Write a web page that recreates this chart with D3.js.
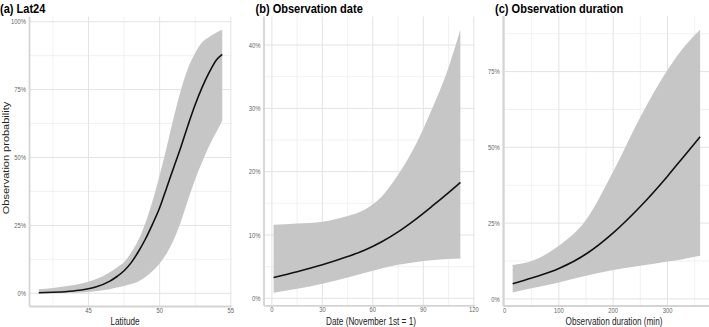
<!DOCTYPE html>
<html>
<head>
<meta charset="utf-8">
<script src="https://cdn.jsdelivr.net/npm/d3@7"></script>
<style>
  html, body { margin: 0; padding: 0; background: #fff; }
  svg { display: block; font-family: "Liberation Sans", Arial, sans-serif; }
</style>
</head>
<body>
<svg id="chart" width="709" height="327"></svg>
<script>
// (a) latitude
const latitude = [41.5, 42.5, 43.5, 44.5, 45.5, 46.5, 47, 47.5, 48, 48.5, 49, 49.5, 50, 50.5, 51, 51.5, 52, 52.5, 53, 53.5, 54, 54.4];
const latFit = [0.2, 0.4, 0.7, 1.2, 2.3, 4.5, 6.2, 8.3, 11.3, 15.3, 20, 25.5, 31.5, 39, 46.5, 54, 62, 69.5, 76, 81.5, 86, 88];
const latLow = [0, 0.05, 0.1, 0.3, 0.8, 1.5, 2.1, 2.7, 3.4, 4.4, 6, 8.2, 11, 14.8, 19.8, 26.5, 34.5, 42, 48.5, 54.5, 59.5, 63.5];
const latHigh = [1.5, 2.0, 2.7, 3.6, 5.2, 7.8, 9.5, 11.5, 15, 19.5, 26, 34, 43.5, 54, 65, 75, 83, 88.5, 92.5, 94.5, 96, 97];

// (b) observation date
const dateDay = [1, 15, 30, 45, 55, 65, 75, 85, 95, 105, 112];
const dateFit = [3.3, 4.2, 5.3, 6.6, 7.6, 8.9, 10.5, 12.4, 14.5, 16.7, 18.3];
const dateLow = [0.9, 1.5, 2.3, 3.3, 4, 4.7, 5.3, 5.7, 6, 6.2, 6.3];
const dateHigh = [11.6, 11.8, 12.1, 13, 14, 16, 19.5, 24, 29.8, 36.5, 42.4];

// (c) observation duration
const durMin = [15, 50, 100, 150, 200, 250, 300, 330, 360];
const durFit = [5, 6.9, 10, 14.8, 21.8, 30.5, 40.5, 47, 53.5];
const durLow = [2.1, 3.5, 5.4, 7.6, 9.5, 10.9, 12.3, 13.2, 14.2];
const durHigh = [11.2, 12.5, 17.5, 26, 42, 60, 75.5, 83, 88.8];

// breaks
const latTicks = [45, 50, 55], latMinor = [42.5, 47.5, 52.5];
const dateTicks = [0, 30, 60, 90, 120], dateMinor = [15, 45, 75, 105];
const durTicks = [0, 100, 200, 300], durMinor = [50, 150, 250, 350];
const probTicksA = [0, 25, 50, 75, 100], probMinorA = [12.5, 37.5, 62.5, 87.5];
const probTicksB = [0, 10, 20, 30, 40], probMinorB = [5, 15, 25, 35];
const probTicksC = [0, 25, 50, 75], probMinorC = [12.5, 37.5, 62.5, 87.5];

const panels = [
  { tag: "(a)", title: "Lat24", xs: latitude, fit: latFit, lo: latLow, hi: latHigh,
    xDomain: [40.85, 55.05], yDomain: [-4.85, 101.85], box: { l: 29.5, r: 231.5, t: 16.7, b: 306.5 },
    xTicks: latTicks, xMinor: latMinor, yTicks: probTicksA, yMinor: probMinorA,
    xTitle: "Latitude", titleX: 0, xTitleX: 125 },
  { tag: "(b)", title: "Observation date", xs: dateDay, fit: dateFit, lo: dateLow, hi: dateHigh,
    xDomain: [-4.7, 120.7], yDomain: [-1.18, 44.5], box: { l: 264, r: 475, t: 16.5, b: 305.8 },
    xTicks: dateTicks, xMinor: dateMinor, yTicks: probTicksB, yMinor: probMinorB,
    xTitle: "Date (November 1st = 1)", titleX: 255.5, xTitleX: 371 },
  { tag: "(c)", title: "Observation duration", xs: durMin, fit: durFit, lo: durLow, hi: durHigh,
    xDomain: [-2.25, 377.25], yDomain: [-2.35, 93.35], box: { l: 503.3, r: 709.5, t: 16, b: 306 },
    xTicks: durTicks, xMinor: durMinor, yTicks: probTicksC, yMinor: probMinorC,
    xTitle: "Observation duration (min)", titleX: 495, xTitleX: 614 }
];

const svg = d3.select("#chart");
const squeeze = 0.78; // the figure is slightly narrowed horizontally

panels.forEach((p) => {
  const x = d3.scaleLinear().domain(p.xDomain).range([p.box.l, p.box.r]);
  const y = d3.scaleLinear().domain(p.yDomain).range([p.box.b, p.box.t]);
  const g = svg.append("g");

  // grid
  const grid = g.append("g");
  grid.selectAll("line.vminor").data(p.xMinor).enter().append("line")
    .attr("x1", (d) => x(d)).attr("x2", (d) => x(d))
    .attr("y1", p.box.t).attr("y2", p.box.b)
    .attr("stroke", "#eeeeee").attr("stroke-width", 0.8);
  grid.selectAll("line.hminor").data(p.yMinor).enter().append("line")
    .attr("x1", p.box.l).attr("x2", p.box.r)
    .attr("y1", (d) => y(d)).attr("y2", (d) => y(d))
    .attr("stroke", "#eeeeee").attr("stroke-width", 0.8);
  grid.selectAll("line.vmajor").data(p.xTicks).enter().append("line")
    .attr("x1", (d) => x(d)).attr("x2", (d) => x(d))
    .attr("y1", p.box.t).attr("y2", p.box.b)
    .attr("stroke", "#e3e3e3").attr("stroke-width", 1);
  grid.selectAll("line.hmajor").data(p.yTicks).enter().append("line")
    .attr("x1", p.box.l).attr("x2", p.box.r)
    .attr("y1", (d) => y(d)).attr("y2", (d) => y(d))
    .attr("stroke", "#e3e3e3").attr("stroke-width", 1);

  // confidence band and fitted line
  const rows = p.xs.map((v, i) => ({ x: v, fit: p.fit[i], lo: p.lo[i], hi: p.hi[i] }));
  g.append("path")
    .datum(rows)
    .attr("fill", "#c6c6c6")
    .attr("d", d3.area().curve(d3.curveMonotoneX)
      .x((d) => x(d.x)).y0((d) => y(d.lo)).y1((d) => y(d.hi)));
  g.append("path")
    .datum(rows)
    .attr("fill", "none")
    .attr("stroke", "#111")
    .attr("stroke-width", 1.6)
    .attr("d", d3.line().curve(d3.curveMonotoneX)
      .x((d) => x(d.x)).y((d) => y(d.fit)));

  // axis lines (left and bottom only)
  g.append("line")
    .attr("x1", p.box.l).attr("x2", p.box.l)
    .attr("y1", p.box.t).attr("y2", p.box.b)
    .attr("stroke", "#d4d4d4").attr("stroke-width", 1.8);
  g.append("line")
    .attr("x1", p.box.l).attr("x2", p.box.r)
    .attr("y1", p.box.b).attr("y2", p.box.b)
    .attr("stroke", "#d4d4d4").attr("stroke-width", 1.8);

  // tick labels
  g.selectAll("text.ytick").data(p.yTicks).enter().append("text")
    .attr("transform", (d) => `translate(${p.box.l - 3.5},${y(d)}) scale(${squeeze},1)`)
    .attr("dy", "0.35em")
    .attr("text-anchor", "end")
    .attr("font-size", 7.5)
    .attr("fill", "#666")
    .text((d) => d + "%");
  g.selectAll("text.xtick").data(p.xTicks).enter().append("text")
    .attr("transform", (d) => `translate(${x(d)},${p.box.b + 6.5}) scale(${squeeze},1)`)
    .attr("text-anchor", "middle")
    .attr("font-size", 7.5)
    .attr("fill", "#666")
    .text((d) => d);

  // axis title
  g.append("text")
    .attr("transform", `translate(${p.xTitleX},324.5) scale(${squeeze},1)`)
    .attr("text-anchor", "middle")
    .attr("font-size", 10.5)
    .attr("fill", "#222")
    .text(p.xTitle);

  // panel title
  const t = g.append("text")
    .attr("transform", `translate(${p.titleX},13) scale(0.85,1)`)
    .attr("font-size", 13)
    .attr("fill", "#000");
  t.append("tspan").attr("font-weight", "bold").text(p.tag);
  t.append("tspan").attr("font-weight", "bold").text(" " + p.title);
});

// shared y title on the left
svg.append("text")
  .attr("transform", "translate(8.5,158) rotate(-90) scale(1," + squeeze + ")")
  .attr("text-anchor", "middle")
  .attr("font-size", 11)
  .attr("fill", "#222")
  .text("Observation probability");
</script>
</body>
</html>
